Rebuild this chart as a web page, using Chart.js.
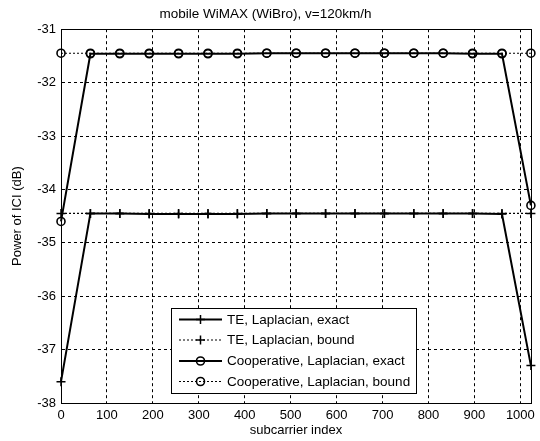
<!DOCTYPE html>
<html>
<head>
<meta charset="utf-8">
<script src="https://cdn.jsdelivr.net/npm/chart.js@4/dist/chart.umd.min.js"></script>
<style>
  html, body { margin: 0; padding: 0; background: #fff; }
  #wrap { width: 540px; height: 441px; }
</style>
</head>
<body>
<div id="wrap"><canvas id="c" width="540" height="441"></canvas></div>
<script>
// ---- data ----
const subcarrierIdx = [0, 64, 128, 192, 256, 320, 384, 448, 512, 576, 640, 704, 768, 832, 896, 960, 1023];
const teExact    = [-37.6, -34.45, -34.45, -34.46, -34.46, -34.46, -34.46, -34.45, -34.45, -34.45, -34.45, -34.45, -34.45, -34.45, -34.45, -34.46, -37.3];
const teBound    = [-34.45, -34.45, -34.45, -34.45, -34.45, -34.45, -34.45, -34.45, -34.45, -34.45, -34.45, -34.45, -34.45, -34.45, -34.45, -34.45, -34.45];
const coopExact  = [-34.6, -31.46, -31.46, -31.46, -31.46, -31.46, -31.46, -31.45, -31.45, -31.45, -31.45, -31.45, -31.45, -31.45, -31.46, -31.46, -34.3];
const coopBound  = [-31.45, -31.45, -31.45, -31.45, -31.45, -31.45, -31.45, -31.45, -31.45, -31.45, -31.45, -31.45, -31.45, -31.45, -31.45, -31.45, -31.45];
const seriesLabels = ['TE, Laplacian, exact', 'TE, Laplacian, bound', 'Cooperative, Laplacian, exact', 'Cooperative, Laplacian, bound'];
const xTickValues = [0, 100, 200, 300, 400, 500, 600, 700, 800, 900, 1000];
const yTickValues = [-38, -37, -36, -35, -34, -33, -32, -31];
const chartTitle = 'mobile WiMAX (WiBro), v=120km/h';
const xTitle = 'subcarrier index';
const yTitle = 'Power of ICI (dB)';

const FONT = "'Liberation Sans', Arial, sans-serif";

function pts(ys) { return subcarrierIdx.map((x, i) => ({ x: x, y: ys[i] })); }

const solidStyle = { borderColor: '#000', borderWidth: 2, borderDash: [] };
const dotStyle = { borderColor: '#000', borderWidth: 1.2, borderDash: [2, 2] };

const datasets = [
  Object.assign({ label: seriesLabels[0], data: pts(teExact), pointStyle: 'cross', pointRadius: 4.5, pointBorderWidth: 1.5 }, solidStyle),
  Object.assign({ label: seriesLabels[1], data: pts(teBound), pointStyle: 'cross', pointRadius: 4.5, pointBorderWidth: 1.5 }, dotStyle),
  Object.assign({ label: seriesLabels[2], data: pts(coopExact), pointStyle: 'circle', pointRadius: 4, pointBorderWidth: 1.6 }, solidStyle),
  Object.assign({ label: seriesLabels[3], data: pts(coopBound), pointStyle: 'circle', pointRadius: 4, pointBorderWidth: 1.6 }, dotStyle)
].map(d => Object.assign(d, {
  pointBorderColor: '#000',
  pointBackgroundColor: 'rgba(0,0,0,0)',
  fill: false,
  tension: 0,
  clip: false
}));

const boxPlugin = {
  id: 'box',
  afterDatasetsDraw(chart) {
    const { ctx, chartArea: a } = chart;
    ctx.save();
    ctx.strokeStyle = '#000';
    ctx.lineWidth = 1;
    ctx.setLineDash([]);
    ctx.strokeRect(Math.round(a.left) + 0.5, Math.round(a.top) + 0.5, Math.round(a.right - a.left), Math.round(a.bottom - a.top));
    ctx.restore();
  }
};

const legendPlugin = {
  id: 'innerLegend',
  afterDraw(chart) {
    const { ctx } = chart;
    const bx = 171, by = 308, bw = 245, bh = 85;
    ctx.save();
    ctx.fillStyle = '#fff';
    ctx.fillRect(bx, by, bw, bh);
    ctx.strokeStyle = '#000';
    ctx.lineWidth = 1;
    ctx.setLineDash([]);
    ctx.strokeRect(bx + 0.5, by + 0.5, bw, bh);
    const rows = [319.5, 340, 361, 381.5];
    chart.data.datasets.forEach((ds, i) => {
      const y = rows[i];
      ctx.strokeStyle = '#000';
      ctx.lineWidth = ds.borderWidth;
      ctx.setLineDash(ds.borderDash || []);
      ctx.beginPath();
      ctx.moveTo(179, y);
      ctx.lineTo(222, y);
      ctx.stroke();
      ctx.setLineDash([]);
      ctx.lineWidth = ds.pointBorderWidth;
      const mx = 200.5, r = ds.pointRadius;
      ctx.beginPath();
      if (ds.pointStyle === 'cross') {
        ctx.moveTo(mx - r, y); ctx.lineTo(mx + r, y);
        ctx.moveTo(mx, y - r); ctx.lineTo(mx, y + r);
      } else {
        ctx.arc(mx, y, r, 0, Math.PI * 2);
      }
      ctx.stroke();
      ctx.fillStyle = '#000';
      ctx.font = '13.5px ' + FONT;
      ctx.textAlign = 'left';
      ctx.textBaseline = 'middle';
      ctx.fillText(ds.label, 227, y + 0.5);
    });
    ctx.restore();
  }
};

new Chart(document.getElementById('c'), {
  type: 'line',
  data: { datasets: datasets },
  plugins: [boxPlugin, legendPlugin],
  options: {
    responsive: false,
    devicePixelRatio: 1,
    animation: false,
    layout: { padding: { left: 0, right: 9, top: 4, bottom: 0 } },
    plugins: {
      legend: { display: false },
      tooltip: { enabled: false },
      title: {
        display: true,
        text: chartTitle,
        color: '#000',
        font: { family: FONT, size: 13.5, weight: 'normal' },
        padding: { top: 2, bottom: 7 }
      }
    },
    scales: {
      x: {
        type: 'linear',
        min: 0,
        max: 1023,
        afterBuildTicks(scale) { scale.ticks = xTickValues.map(v => ({ value: v })); },
        afterFit(scale) { scale.height = 38; },
        ticks: {
          color: '#000',
          font: { family: FONT, size: 13 },
          padding: 5,
          maxRotation: 0,
          autoSkip: false,
          callback: v => String(v)
        },
        grid: { color: '#000', lineWidth: 1, drawTicks: false },
        border: { display: true, color: '#000', width: 1, dash: [3, 3] },
        title: {
          display: true,
          text: xTitle,
          color: '#000',
          font: { family: FONT, size: 13 },
          padding: { top: 0, bottom: 3 }
        }
      },
      y: {
        type: 'linear',
        min: -38,
        max: -31,
        afterBuildTicks(scale) { scale.ticks = yTickValues.map(v => ({ value: v })); },
        afterFit(scale) { scale.width = 61; },
        ticks: {
          color: '#000',
          font: { family: FONT, size: 13 },
          padding: 5,
          autoSkip: false,
          callback: v => String(v)
        },
        grid: { color: '#000', lineWidth: 1, drawTicks: false },
        border: { display: true, color: '#000', width: 1, dash: [3, 3] },
        title: {
          display: true,
          text: yTitle,
          color: '#000',
          font: { family: FONT, size: 13 },
          padding: { top: 10, bottom: 0 }
        }
      }
    }
  }
});
</script>
</body>
</html>
